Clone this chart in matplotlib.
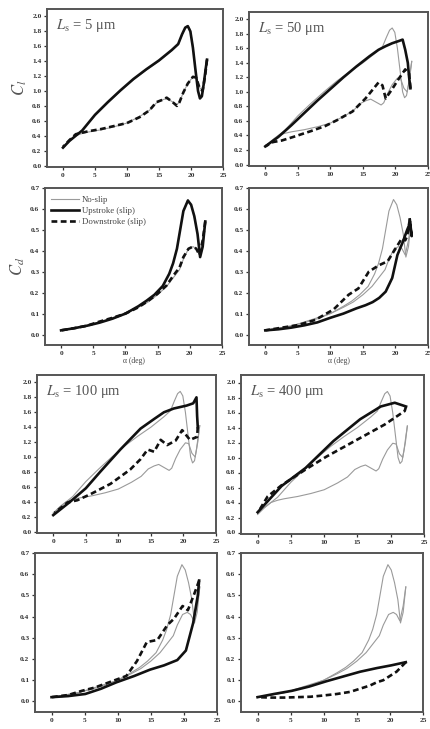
import numpy as np
import matplotlib
matplotlib.use('Agg')
from matplotlib import pyplot as plt

plt.rcParams['font.family'] = ['Liberation Serif', 'DejaVu Serif']
plt.rcParams['mathtext.fontset'] = 'stix'

# ---- no-slip reference (same in every panel) ----
ns_up_a  = [0, 1, 2, 3, 5, 7, 9, 11, 13, 15, 16, 17, 18, 18.6, 19.1, 19.5, 19.9, 20.3, 20.7, 21.1, 21.4, 21.7, 22.0, 22.3, 22.5]
ns_up_cl = [0.24, 0.33, 0.40, 0.47, 0.67, 0.84, 1.00, 1.15, 1.28, 1.40, 1.47, 1.54, 1.62, 1.75, 1.85, 1.88, 1.82, 1.60, 1.30, 1.00, 0.92, 0.95, 1.10, 1.30, 1.42]
ns_dn_a  = [22.5, 22.2, 21.8, 21.3, 20.8, 20.3, 19.5, 18.8, 18.2, 17.8, 17.0, 16.2, 15.5, 14.6, 13.5, 12, 10, 8, 6, 4, 3, 2, 1, 0]
ns_dn_cl = [1.42, 1.20, 1.00, 1.05, 1.18, 1.19, 1.10, 0.98, 0.85, 0.82, 0.86, 0.90, 0.88, 0.84, 0.74, 0.66, 0.57, 0.52, 0.48, 0.45, 0.43, 0.40, 0.33, 0.25]

ns_up_ca = [0, 2, 4, 6, 8, 10, 12, 13.3, 14.5, 15.8, 16.8, 17.4, 18, 18.5, 19, 19.7, 20.2, 20.7, 21.2, 21.6, 22.0, 22.4]
ns_up_cd = [0.02, 0.03, 0.042, 0.057, 0.075, 0.10, 0.135, 0.16, 0.19, 0.23, 0.29, 0.34, 0.41, 0.50, 0.59, 0.645, 0.62, 0.56, 0.48, 0.37, 0.42, 0.54]
ns_dn_ca = [22.4, 22.0, 21.5, 21.0, 20.5, 19.8, 19.0, 18.4, 17.4, 16.4, 15.0, 13.5, 12, 10, 8, 6, 4, 2, 0]
ns_dn_cd = [0.54, 0.45, 0.38, 0.41, 0.42, 0.41, 0.36, 0.31, 0.27, 0.23, 0.19, 0.155, 0.13, 0.10, 0.08, 0.06, 0.04, 0.03, 0.02]

# ---- slip cases ----
L5_up_a  = [0, 1, 2, 3, 5, 7, 9, 11, 13, 15, 16, 17, 18, 18.6, 19.1, 19.5, 19.9, 20.3, 20.7, 21.1, 21.4, 21.7, 22.0, 22.3, 22.5]
L5_up_cl = [0.24, 0.33, 0.40, 0.47, 0.68, 0.85, 1.01, 1.16, 1.29, 1.41, 1.48, 1.55, 1.63, 1.76, 1.85, 1.87, 1.80, 1.58, 1.28, 1.00, 0.90, 0.93, 1.10, 1.30, 1.42]
L5_dn_a  = [22.5, 22.2, 21.8, 21.3, 20.8, 20.3, 19.5, 18.8, 18.2, 17.8, 17.0, 16.2, 15.5, 14.6, 13.5, 12, 10, 8, 6, 4, 3, 2, 1, 0]
L5_dn_cl = [1.42, 1.20, 1.00, 1.05, 1.18, 1.19, 1.10, 0.98, 0.85, 0.80, 0.86, 0.91, 0.88, 0.85, 0.74, 0.65, 0.57, 0.53, 0.49, 0.46, 0.44, 0.42, 0.34, 0.25]
L5_up_ca = [0, 2, 4, 6, 8, 10, 12, 13.3, 14.5, 15.8, 16.8, 17.4, 18, 18.5, 19, 19.7, 20.2, 20.7, 21.2, 21.6, 22.0, 22.4]
L5_up_cd = [0.02, 0.03, 0.042, 0.057, 0.076, 0.10, 0.135, 0.162, 0.19, 0.232, 0.29, 0.34, 0.41, 0.50, 0.59, 0.640, 0.62, 0.565, 0.48, 0.37, 0.42, 0.54]
L5_dn_ca = [22.4, 22.0, 21.5, 21.0, 20.5, 19.8, 19.0, 18.4, 17.4, 16.4, 15.0, 13.5, 12, 10, 8, 6, 4, 2, 0]
L5_dn_cd = [0.54, 0.45, 0.38, 0.41, 0.42, 0.41, 0.37, 0.32, 0.28, 0.235, 0.195, 0.16, 0.13, 0.10, 0.08, 0.062, 0.042, 0.03, 0.02]

L50_up_a  = [0, 2, 4, 6, 8, 10, 12, 14, 16, 17.4, 18.5, 19.5, 20.5, 21.1, 21.5, 21.9, 22.1, 22.3]
L50_up_cl = [0.25, 0.38, 0.54, 0.71, 0.88, 1.04, 1.20, 1.35, 1.49, 1.58, 1.63, 1.67, 1.70, 1.72, 1.58, 1.40, 1.20, 1.05]
L50_dn_a  = [22.3, 22.1, 21.5, 20.5, 19.5, 18.5, 18.0, 17.4, 16.4, 15.4, 13.4, 11, 9.2, 7, 4.3, 2.5, 1.2, 0]
L50_dn_cl = [1.05, 1.25, 1.31, 1.18, 1.04, 0.91, 1.09, 1.13, 1.02, 0.91, 0.73, 0.61, 0.53, 0.46, 0.38, 0.33, 0.31, 0.25]
L50_up_ca = [0, 2, 4, 6, 8, 10, 12, 14, 15.4, 16.5, 17.5, 18.5, 19.5, 20.3, 21.1, 21.8, 22.2, 22.5, 22.2]
L50_up_cd = [0.02, 0.025, 0.033, 0.044, 0.058, 0.08, 0.10, 0.125, 0.14, 0.155, 0.175, 0.205, 0.27, 0.38, 0.44, 0.50, 0.53, 0.47, 0.55]
L50_dn_ca = [22.2, 21.8, 21.5, 21.0, 20.0, 18.8, 17.4, 15.9, 14.3, 12.8, 10.5, 7.7, 5, 3, 1, 0]
L50_dn_cd = [0.55, 0.47, 0.45, 0.46, 0.41, 0.35, 0.33, 0.30, 0.22, 0.19, 0.12, 0.07, 0.045, 0.035, 0.025, 0.02]

L100_up_a  = [0, 2.6, 5, 7.2, 10.3, 13.4, 15.5, 17, 18.5, 19.5, 20.5, 21.5, 22.0, 22.1, 22.2]
L100_up_cl = [0.22, 0.40, 0.58, 0.80, 1.10, 1.38, 1.51, 1.60, 1.65, 1.67, 1.69, 1.72, 1.80, 1.55, 1.40]
L100_dn_a  = [22.2, 22.1, 21.0, 19.8, 18.8, 17.5, 16.5, 15.5, 14.5, 13.4, 11.8, 8.8, 5.7, 3.7, 2.2, 0.2]
L100_dn_cl = [1.40, 1.27, 1.23, 1.36, 1.22, 1.16, 1.23, 1.07, 1.10, 0.97, 0.83, 0.64, 0.50, 0.42, 0.39, 0.25]
L100_up_ca = [0, 2.5, 5.1, 7.5, 9.8, 12.5, 14.9, 17, 19, 20.3, 21.4, 22.1, 22.3]
L100_up_cd = [0.02, 0.025, 0.035, 0.06, 0.09, 0.12, 0.15, 0.17, 0.195, 0.24, 0.37, 0.50, 0.57]
L100_dn_ca = [22.3, 21.6, 20.6, 19.8, 18.5, 17.5, 16, 14.4, 12.9, 11.3, 8.7, 6.5, 4.6, 2.5, 0]
L100_dn_cd = [0.57, 0.51, 0.43, 0.45, 0.39, 0.36, 0.29, 0.28, 0.19, 0.12, 0.09, 0.065, 0.05, 0.03, 0.02]

L400_up_a  = [0, 3.6, 7.2, 11.4, 15.4, 18.5, 20.6, 22.3]
L400_up_cl = [0.27, 0.62, 0.86, 1.22, 1.51, 1.68, 1.73, 1.68]
L400_dn_a  = [22.3, 22.1, 19.1, 15.0, 10.3, 7.2, 3.6, 1.5, 0.2]
L400_dn_cl = [1.68, 1.62, 1.44, 1.24, 1.01, 0.84, 0.63, 0.48, 0.29]
L400_up_ca = [0, 2.5, 5.2, 7.8, 10.4, 13, 15.5, 18, 20.2, 22.4]
L400_up_cd = [0.02, 0.035, 0.05, 0.07, 0.095, 0.118, 0.14, 0.157, 0.17, 0.185]
L400_dn_ca = [22.4, 21, 20, 19, 18, 17, 16, 14, 12, 10, 8, 6, 4, 2, 0]
L400_dn_cd = [0.185, 0.14, 0.12, 0.10, 0.09, 0.075, 0.065, 0.045, 0.035, 0.028, 0.022, 0.02, 0.018, 0.018, 0.02]

cases = ['5', '50', '100', '400']
cl_data = {'5': (L5_up_a, L5_up_cl, L5_dn_a, L5_dn_cl),
           '50': (L50_up_a, L50_up_cl, L50_dn_a, L50_dn_cl),
           '100': (L100_up_a, L100_up_cl, L100_dn_a, L100_dn_cl),
           '400': (L400_up_a, L400_up_cl, L400_dn_a, L400_dn_cl)}
cd_data = {'5': (L5_up_ca, L5_up_cd, L5_dn_ca, L5_dn_cd),
           '50': (L50_up_ca, L50_up_cd, L50_dn_ca, L50_dn_cd),
           '100': (L100_up_ca, L100_up_cd, L100_dn_ca, L100_dn_cd),
           '400': (L400_up_ca, L400_up_cd, L400_dn_ca, L400_dn_cd)}

# pixel boxes (left, top, right, bottom) of each panel
cl_box = {'5': (47, 9, 223, 167), '50': (249, 12, 428, 166),
          '100': (37, 375, 216, 533), '400': (241, 375, 424, 534)}
cd_box = {'5': (45, 188, 222, 345), '50': (249, 188, 428, 345),
          '100': (35, 553, 217, 712), '400': (241, 553, 423, 712)}
xlabel_under = ['5', '50']

W, H = 430, 729
fig = plt.figure(figsize=(W/100, H/100), dpi=100)

def px_axes(box, z):
    l, t, r, b = box
    ax = fig.add_axes([l/W, 1 - b/H, (r - l)/W, (b - t)/H])
    ax.set_zorder(z)
    return ax

def style(ax, yticks):
    ax.set_xlim(-2.5, 25)
    ax.set_xticks([0, 5, 10, 15, 20, 25])
    ax.set_yticks(yticks)
    ax.set_yticklabels(['%.1f' % v for v in yticks])
    ax.tick_params(direction='out', length=2.5, width=0.9, labelsize=5.3, pad=1.5, colors='#333')
    for lab in ax.get_xticklabels() + ax.get_yticklabels():
        lab.set_fontweight('bold')
    for s in ax.spines.values():
        s.set_linewidth(1.4); s.set_color('#555')

def draw(ax, d, ns):
    ua, uv, da, dv = d
    l1, = ax.plot(ns[0], ns[1], color='#9a9a9a', lw=0.8)
    ax.plot(ns[2], ns[3], color='#9a9a9a', lw=0.8)
    l2, = ax.plot(ua, uv, color='#111', lw=1.9, solid_joinstyle='round')
    l3, = ax.plot(da, dv, color='#111', lw=1.9, ls=(0, (2.2, 1.3)))
    return l1, l2, l3

for i, L in enumerate(cases):
    z = 1 if L in ('5', '100') else 2
    ax = px_axes(cl_box[L], z)
    draw(ax, cl_data[L], (ns_up_a, ns_up_cl, ns_dn_a, ns_dn_cl))
    ax.set_ylim(-0.02, 2.1)
    style(ax, np.round(np.arange(0, 2.01, 0.2), 1))
    ax.text(0.05, 0.95, r'$L_\mathrm{s}$ = %s μm' % L, transform=ax.transAxes,
            ha='left', va='top', fontsize=10.5, color='#555')

    ax2 = px_axes(cd_box[L], z)
    hs = draw(ax2, cd_data[L], (ns_up_ca, ns_up_cd, ns_dn_ca, ns_dn_cd))
    ax2.set_ylim(-0.05, 0.7)
    style(ax2, np.round(np.arange(0, 0.71, 0.1), 1))
    if L in xlabel_under:
        ax2.set_xlabel('α (deg)', fontsize=5.5, labelpad=1, color='#444')
    if L == '5':
        ax2.legend(hs, ['No-slip', 'Upstroke (slip)', 'Downstroke (slip)'],
                   loc='upper left', bbox_to_anchor=(-0.01, 1.0), frameon=False,
                   fontsize=6.3, handlelength=3.2, labelspacing=0.35, handletextpad=0.3,
                   labelcolor='#444')
        ax.set_ylabel('$C_l$', fontsize=12, color='#555', labelpad=2)
        ax2.set_ylabel('$C_d$', fontsize=12, color='#555', labelpad=2)

fig.savefig('out.png', dpi=100)
